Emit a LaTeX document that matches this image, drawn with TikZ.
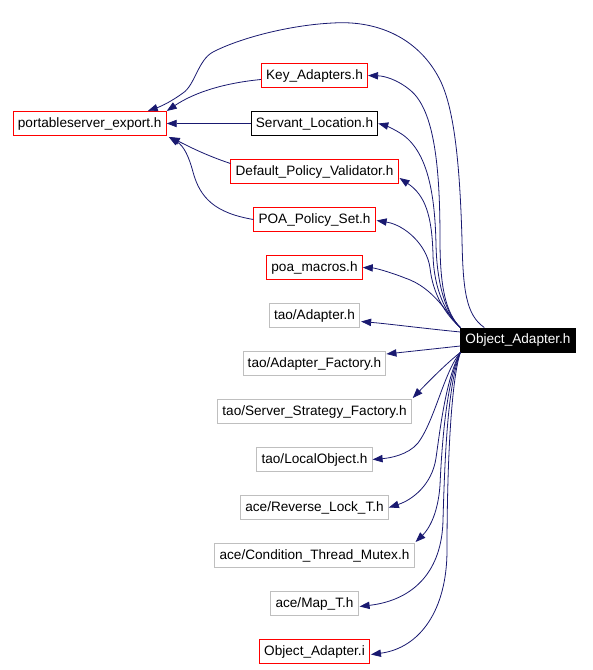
\documentclass[tikz,border=0pt]{standalone}
\usepackage{fontspec}
\setmainfont{Liberation Sans}
\usepackage{tikz}
\usetikzlibrary{positioning,calc,arrows.meta}
\definecolor{edgeblue}{HTML}{191970}
\definecolor{boxgrey}{HTML}{BFBFBF}
\definecolor{boxred}{HTML}{FF0000}
\tikzset{
  file/.style={draw, rectangle, line width=0.75pt, minimum height=18pt,
    inner xsep=3.5pt, inner ysep=0pt, font=\fontsize{10.2}{12}\selectfont},
  redfile/.style={file, draw=boxred},
  blackfile/.style={file, draw=black},
  greyfile/.style={file, draw=boxgrey},
  mainfile/.style={file, draw=black, fill=black, text=white},
  incl/.style={draw=edgeblue, line width=0.6pt, -{Triangle[length=7.5pt,width=5.5pt]}}
}

\begin{document}
\begin{tikzpicture}[x=0.75pt,y=-0.75pt,node distance=17.25pt]
  \useasboundingbox (0,0) rectangle (592,670);

	  \node[redfile] (ka) at (314.5,75.5) {Key\_Adapters.h} ; %
	  \node[blackfile, below=of ka] (sl) {Servant\_Location.h};
	  \node[redfile, below=of sl] (dpv) {Default\_Policy\_Validator.h};
	  \node[redfile, below=of dpv] (pps) {POA\_Policy\_Set.h};
	  \node[redfile, below=of pps] (pm) {poa\_macros.h};
	  \node[greyfile, below=of pm] (ta) {tao/Adapter.h};
	  \node[greyfile, below=of ta] (taf) {tao/Adapter\_Factory.h};
	  \node[greyfile, below=of taf] (tssf) {tao/Server\_Strategy\_Factory.h};
	  \node[greyfile, below=of tssf] (tlo) {tao/LocalObject.h};
	  \node[greyfile, below=of tlo] (arl) {ace/Reverse\_Lock\_T.h};
	  \node[greyfile, below=of arl] (actm) {ace/Condition\_Thread\_Mutex.h};
	  \node[greyfile, below=of actm] (amt) {ace/Map\_T.h};
	  \node[redfile, below=of amt] (oai) {Object\_Adapter.i};

          \node[redfile, left=63pt of sl] (pe) {portableserver\_export.h};
          \node[mainfile] (oa) at (518,340) {Object\_Adapter.h}; %

          % includes of Object_Adapter.h
          \draw[incl] ($(oa.north west)+(24,0)$) .. controls (466,315) and (463,290) .. (462,240)
            .. controls (460,170) and (455,110) .. (440,80)
            .. controls (420,40) and (380,20) .. (333,23)
            .. controls (290,25) and (240,38) .. (213,52)
            .. controls (198,60) and (195,85) .. (183,93)
            .. controls (172,101) and (162,106) .. ($(pe.north east)+(-19,0)$);
          \draw[incl] (oa.north west) .. controls (445,312) and (440,285) .. (440,240)
            .. controls (440,170) and (435,110) .. (410,90)
            .. controls (398,80) and (385,76) .. (ka.east);
          \draw[incl] (oa.north west) .. controls (446,314) and (437,285) .. (436,245)
            .. controls (435,195) and (428,150) .. (400,133)
            .. controls (392,128) and (384,125) .. (sl.east);
          \draw[incl] (oa.north west) .. controls (446,314) and (434,290) .. (433,255)
            .. controls (432,215) and (425,195) .. ($(dpv.south east)+(1,-6)$);
          \draw[incl] (oa.north west) .. controls (446,315) and (433,295) .. (430,268)
            .. controls (427,245) and (405,225) .. ($(pps.east)+(1,1)$);
          \draw[incl] (oa.north west) .. controls (448,316) and (435,288) .. (405,278)
            .. controls (390,272) and (375,268) .. (pm.east);
          \draw[incl] ($(oa.west)+(0,-8)$) .. controls (420,328) and (390,324) .. ($(ta.east)+(1,6)$);
          \draw[incl] ($(oa.west)+(0,6)$) -- ($(taf.north east)+(0,3)$);
          \draw[incl] (oa.south west) .. controls (448,362) and (430,380) .. ($(tssf.north east)+(1,-1)$);
          \draw[incl] (oa.south west) .. controls (444,372) and (435,420) .. (418,443)
            .. controls (408,455) and (390,458) .. (tlo.east);
          \draw[incl] (oa.south west) .. controls (446,378) and (440,430) .. (436,458)
            .. controls (432,485) and (412,500) .. (arl.east);
          \draw[incl] (oa.south west) .. controls (447,380) and (442,440) .. (440,485)
            .. controls (438,515) and (428,530) .. ($(actm.north east)+(1,-1)$);
          \draw[incl] (oa.south west) .. controls (448,385) and (445,450) .. (443,520)
            .. controls (442,570) and (415,600) .. ($(amt.east)+(1,3)$);
          \draw[incl] (oa.south west) .. controls (450,385) and (447,480) .. (447,550)
            .. controls (447,610) and (420,648) .. ($(oai.east)+(1,3)$);

          % into portableserver_export.h
          \draw[incl] ($(ka.west)+(0,4)$) .. controls (225,83) and (195,92) .. (pe.north east);
          \draw[incl] (sl) -- (pe);
          \draw[incl] ($(dpv.west)+(0,-8)$) .. controls (205,155) and (188,146) .. ($(pe.south east)+(3,1)$);
          \draw[incl] (pps.west) .. controls (215,213) and (200,198) .. (193,172)
            .. controls (189,157) and (184,146) .. ($(pe.south east)+(2,1)$);

\end{tikzpicture}
\end{document}
